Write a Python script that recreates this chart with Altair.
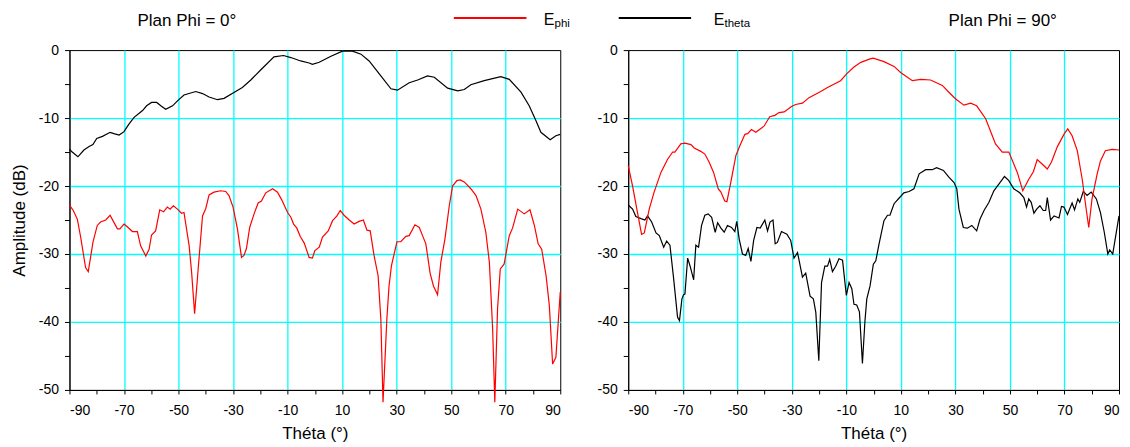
import altair as alt
import pandas as pd

# ---------------- data (theta in degrees, amplitude in dB) ----------------
phi0_etheta = [
    (-90, -14.6), (-89, -15.0), (-86.9, -15.7), (-84.7, -14.7), (-82.8, -14.2), (-81.4, -13.9),
    (-80, -13.0), (-77.9, -12.7), (-75.1, -12.1), (-73.7, -12.3), (-71.8, -12.5), (-70, -12.0),
    (-68.2, -10.9), (-66.3, -9.9), (-63.2, -8.9), (-61.7, -8.2), (-59.9, -7.7), (-58, -7.7),
    (-56.5, -8.2), (-54.7, -8.7), (-52.2, -8.2), (-50.2, -7.4), (-48, -6.6), (-43.7, -6.1),
    (-41.2, -6.4), (-38.8, -6.9), (-35.7, -7.3), (-33.3, -7.1), (-30, -6.3), (-26.6, -5.5),
    (-23.5, -4.4), (-19.8, -2.9), (-15, -1.0), (-11.5, -0.8), (-8.8, -1.1), (-5.2, -1.6),
    (-2.1, -1.9), (-0.9, -2.1), (1.6, -1.8), (5.9, -0.9), (10.1, -0.15), (13.8, -0.15),
    (16.9, -0.6), (19.9, -1.6), (24.2, -3.8), (27.9, -5.7), (30.3, -5.9), (34.6, -4.8),
    (37.7, -4.4), (41.3, -3.8), (43.8, -4.0), (48.7, -5.6), (52.4, -6.0), (54.8, -5.8),
    (57.2, -5.1), (62.1, -4.5), (68.2, -3.9), (71.3, -4.3), (75.6, -6.2), (78.6, -8.2),
    (81.1, -10.4), (82.9, -12.1), (86.3, -13.2), (88.4, -12.6), (90, -12.4),
]

phi0_ephi = [
    (-90, -22.8), (-88.6, -23.6), (-87.1, -24.9), (-85.9, -27.5), (-84.1, -32.0), (-83.1, -32.6),
    (-81.4, -28.3), (-79.8, -25.8), (-78.6, -25.3), (-76.7, -25.0), (-75.1, -24.3), (-73.9, -25.2),
    (-72.4, -26.3), (-71.5, -26.3), (-70, -25.6), (-68.8, -26.0), (-66.9, -26.7), (-65.1, -26.7),
    (-63.9, -28.8), (-62.0, -30.3), (-60.8, -29.3), (-59.9, -27.2), (-58.4, -26.6), (-56.9, -23.5),
    (-55.5, -23.8), (-54.1, -23.1), (-53.1, -23.4), (-51.9, -22.9), (-50.4, -23.4), (-48.9, -24.0),
    (-48, -23.9), (-46.1, -28.8), (-45.2, -32.7), (-44.1, -38.8), (-42.8, -32.2), (-41.2, -24.4),
    (-40, -23.3), (-38.8, -21.3), (-37, -20.9), (-34.5, -20.7), (-32.7, -20.8), (-31.5, -21.4),
    (-30, -23.1), (-28.4, -26.3), (-26.9, -30.5), (-26, -30.2), (-25.1, -29.2), (-23.9, -26.1),
    (-22.3, -24.1), (-20.8, -22.5), (-19.6, -22.2), (-18, -21.0), (-15.5, -20.4), (-13.7, -20.9),
    (-12.2, -22.0), (-10, -23.9), (-8.8, -24.6), (-7.8, -25.6), (-6.6, -26.2), (-5.4, -27.4),
    (-3.9, -28.4), (-2.1, -30.5), (-0.9, -30.6), (0, -29.5), (1.6, -29.0), (2.8, -27.5),
    (4.9, -26.6), (6.5, -25.1), (8.1, -24.4), (9.3, -23.6), (10.7, -24.3), (12.6, -25.0),
    (14.4, -25.6), (16.2, -25.2), (17.8, -25.0), (19.1, -26.5), (20.3, -26.6), (21.7, -30.2),
    (23.2, -33.2), (24.2, -39.6), (25.0, -51.8), (26.4, -39.6), (27.2, -34.7), (28.1, -31.7),
    (30.1, -28.2), (31.5, -28.2), (33.4, -27.4), (34.6, -27.3), (36.7, -25.7), (38.3, -26.1),
    (39.5, -27.3), (40.7, -28.5), (42.3, -32.9), (43.5, -34.7), (45.0, -36.0), (46.2, -31.2),
    (47.7, -27.8), (49.3, -22.9), (50.5, -20.0), (52.1, -19.2), (53.3, -19.1), (54.8, -19.4),
    (57.2, -20.4), (59.1, -21.4), (60.9, -23.4), (62.7, -26.8), (64.0, -31.2), (65.2, -41.0),
    (66.0, -51.8), (67.0, -38.1), (68.0, -32.2), (69.4, -31.5), (71.3, -27.3), (72.5, -26.2),
    (74.4, -23.4), (76.8, -24.1), (78.9, -23.5), (80.5, -25.8), (81.9, -28.5), (83.2, -29.3),
    (84.8, -33.2), (86.0, -37.6), (87.2, -46.2), (88.4, -45.2), (90, -35.6),
]

phi90_ephi = [
    (-90, -17.0), (-88.4, -20.0), (-86.6, -23.9), (-85.1, -27.1), (-84.1, -26.9), (-82.3, -23.4),
    (-80.5, -20.9), (-78.0, -18.0), (-75.6, -16.1), (-73.7, -15.0), (-72.9, -15.0), (-70.7, -13.8),
    (-69.2, -13.7), (-67.0, -13.9), (-65.8, -14.4), (-63.4, -14.9), (-61.9, -15.3), (-60.3, -16.5),
    (-58.7, -18.0), (-57.0, -20.4), (-56.0, -20.9), (-54.6, -22.2), (-53.8, -22.3), (-52.4, -19.5),
    (-50.5, -15.5), (-49.1, -14.1), (-47.2, -12.4), (-46.2, -12.3), (-44.8, -11.7), (-43.2, -12.1),
    (-41.6, -11.6), (-40.2, -11.2), (-38.1, -9.8), (-36.2, -9.6), (-34.7, -9.2), (-32.8, -9.1),
    (-30.1, -8.3), (-28.6, -8.0), (-26.1, -7.8), (-23.7, -7.0), (-19.4, -6.1), (-16.9, -5.5),
    (-12.1, -4.5), (-9.9, -3.5), (-7.2, -2.5), (-4.7, -1.8), (-1.3, -1.3), (-0.1, -1.2),
    (3.8, -1.7), (7.5, -2.4), (9.9, -3.3), (14.2, -4.5), (17.3, -4.3), (20.9, -4.4),
    (25.2, -5.2), (27.6, -6.2), (30.1, -7.2), (33.1, -8.1), (35.6, -7.8), (37.8, -8.2),
    (41.1, -10.1), (44.7, -13.8), (47.2, -15.0), (49.6, -15.0), (52.7, -18.0), (54.7, -20.7),
    (56.9, -19.0), (58.6, -17.9), (60.0, -16.1), (61.9, -16.8), (63.7, -17.5), (65.2, -16.5),
    (67.4, -14.2), (69.8, -12.4), (71.2, -11.6), (72.8, -12.6), (74.7, -14.8), (76.5, -19.0),
    (77.8, -22.9), (78.9, -26.1), (80.1, -21.9), (82.0, -18.2), (83.2, -16.3), (85.0, -14.8),
    (87.5, -14.6), (90, -14.7),
]

phi90_etheta = [
    (-90, -22.8), (-88.4, -23.4), (-87.2, -24.5), (-85.3, -24.8), (-83.9, -25.0), (-82.9, -24.4),
    (-81.4, -25.3), (-79.8, -26.9), (-78.6, -27.3), (-77.0, -29.0), (-75.9, -28.1), (-74.7, -28.7),
    (-73.4, -33.4), (-71.9, -39.3), (-71.2, -39.8), (-70.3, -36.6), (-69.7, -36.0), (-69.2, -35.9),
    (-68.2, -30.6), (-67.3, -31.8), (-66.0, -33.8), (-65.2, -28.7), (-64.2, -29.0), (-63.1, -25.8),
    (-61.9, -24.3), (-60.7, -24.1), (-59.4, -24.6), (-58.1, -26.8), (-57.2, -25.4), (-56.0, -26.2),
    (-54.8, -26.8), (-53.6, -25.8), (-52.1, -26.1), (-50.9, -26.7), (-50.2, -25.2), (-49.3, -27.8),
    (-48.1, -30.0), (-46.9, -30.2), (-46.0, -29.2), (-45.0, -31.1), (-44.0, -28.0), (-42.8, -26.1),
    (-41.6, -26.2), (-39.9, -25.0), (-38.9, -26.6), (-38.0, -25.3), (-36.9, -25.0), (-36.1, -28.5),
    (-35.3, -28.3), (-33.8, -26.7), (-31.8, -27.1), (-30.4, -28.0), (-29.2, -30.6), (-27.9, -29.8),
    (-26.1, -33.4), (-24.9, -32.8), (-23.3, -36.2), (-22.1, -36.6), (-21.2, -38.6), (-20.1, -45.7),
    (-19.1, -34.2), (-17.9, -31.8), (-16.9, -31.8), (-16.1, -30.8), (-15.1, -32.6), (-13.9, -31.8),
    (-12.7, -30.7), (-11.4, -30.9), (-10.0, -36.1), (-9.0, -34.2), (-8.0, -35.1), (-7.2, -37.4),
    (-6.2, -37.5), (-5.2, -38.5), (-4.1, -46.1), (-3.2, -40.0), (-2.5, -36.6), (-1.3, -34.7),
    (-0.1, -31.5), (0.8, -31.0), (2.0, -28.5), (3.8, -25.1), (5.1, -24.3), (6.0, -24.3),
    (7.5, -22.6), (9.3, -21.8), (11.1, -21.0), (13.0, -20.8), (14.8, -20.4), (16.7, -18.2),
    (19.1, -17.6), (21.5, -17.6), (23.1, -17.3), (25.6, -17.7), (27.6, -18.7), (29.5, -19.5),
    (30.5, -20.4), (31.3, -23.4), (32.9, -26.1), (34.4, -26.2), (36.0, -25.8), (37.8, -26.6),
    (39.0, -24.9), (40.5, -23.6), (42.3, -22.4), (44.1, -20.7), (46.0, -19.7), (48.0, -18.6),
    (49.6, -19.2), (51.4, -20.4), (53.6, -21.0), (55.1, -21.7), (56.1, -23.1), (56.9, -21.9),
    (57.8, -22.4), (58.8, -24.0), (59.8, -23.4), (61.0, -22.9), (62.2, -23.6), (63.1, -23.6),
    (63.7, -21.7), (64.9, -25.0), (66.2, -24.4), (68.0, -24.7), (68.9, -23.0), (69.8, -23.1),
    (71.1, -24.2), (72.8, -22.5), (73.7, -23.5), (74.9, -21.9), (75.6, -22.4), (76.9, -20.8),
    (78.3, -21.4), (79.8, -20.9), (81.7, -21.9), (83.2, -23.9), (84.6, -26.8), (85.9, -30.0),
    (86.6, -29.4), (87.7, -30.0), (90, -24.4),
]

panel_titles = ["Plan Phi = 0°", "Plan Phi = 90°"]
x_ticks = list(range(-90, 91, 10))
y_ticks = list(range(-50, 1, 5))

FONT = "Liberation Sans"
RED = "#FF0000"
BLACK = "#000000"
W, H = 491, 340

one = pd.DataFrame({"k": [0]})


def frame(rows):
    return pd.DataFrame(rows, columns=["theta", "amp"])


def deco_text(txt, x, y, size):
    return alt.Chart(one).mark_text(
        text=txt, align="left", baseline="alphabetic", font=FONT,
        fontSize=size, color="black"
    ).encode(x=alt.value(x), y=alt.value(y))


def deco_rule(x1, x2, y, color):
    return alt.Chart(one).mark_rule(color=color, strokeWidth=2).encode(
        x=alt.value(x1), x2=alt.value(x2), y=alt.value(y)
    )


def panel(ephi, etheta, ytitle, extra):
    x = alt.X(
        "theta:Q",
        scale=alt.Scale(domain=[-90, 90], nice=False, zero=False),
        axis=alt.Axis(
            values=x_ticks,
            labelExpr="abs(datum.value) % 20 == 10 ? '' + datum.value : ''",
            gridOpacity={"condition": {"test": "abs(datum.value) % 20 == 10 && abs(datum.value) < 90", "value": 1}, "value": 0},
            labelOverlap=False,
            labelFlush=True,
            tickSize=4,
            labelPadding=10,
            titlePadding=8,
            title="Théta (°)",
        ),
    )
    yax = dict(
        values=y_ticks,
        labelExpr="datum.value % 10 == 0 ? '' + datum.value : ''",
        gridOpacity={"condition": {"test": "datum.value % 10 == 0 && datum.value > -50 && datum.value < 0", "value": 1}, "value": 0},
        labelOverlap=False,
        tickSize=5,
        labelPadding=6,
        titlePadding=10,
    )
    if ytitle:
        yax["title"] = ytitle
    else:
        yax["title"] = None
    y = alt.Y("amp:Q", scale=alt.Scale(domain=[-50, 0], nice=False, zero=False),
              axis=alt.Axis(**yax))
    black = alt.Chart(frame(etheta)).mark_line(color=BLACK, strokeWidth=1.2).encode(x=x, y=y)
    red = alt.Chart(frame(ephi)).mark_line(color=RED, strokeWidth=1.2).encode(x=x, y=y)
    return alt.layer(black, red, *extra).properties(width=W, height=H)


left_extra = [
    deco_text(panel_titles[0], 68, -24.3, 17),
    deco_rule(384.5, 457.2, -32, RED),
    deco_text("E", 474.5, -25, 16),
    deco_text("phi", 485.3, -23.5, 11.5),
    deco_rule(549.5, 621.9, -32, BLACK),
    deco_text("E", 644.5, -25, 16),
    deco_text("theta", 655.3, -23.5, 11.5),
]
right_extra = [
    deco_text(panel_titles[1], 320.5, -24.3, 17),
]

left = panel(phi0_ephi, phi0_etheta, "Amplitude (dB)", left_extra)
right = panel(phi90_ephi, phi90_etheta, None, right_extra)

chart = alt.hconcat(left, right, spacing=68, bounds="flush").properties(
    padding={"left": 1.5, "top": 3, "right": 0, "bottom": 0}
).configure_view(
    stroke="black", strokeWidth=1
).configure_axis(
    labelFont=FONT, titleFont=FONT, labelFontSize=14, titleFontSize=17,
    titleFontWeight="normal", labelColor="black", titleColor="black",
    domainColor="black", tickColor="black", gridColor="#00FFFF", gridWidth=1.3,
)

chart.save("out.html", embed_options={"renderer": "svg", "actions": False})
